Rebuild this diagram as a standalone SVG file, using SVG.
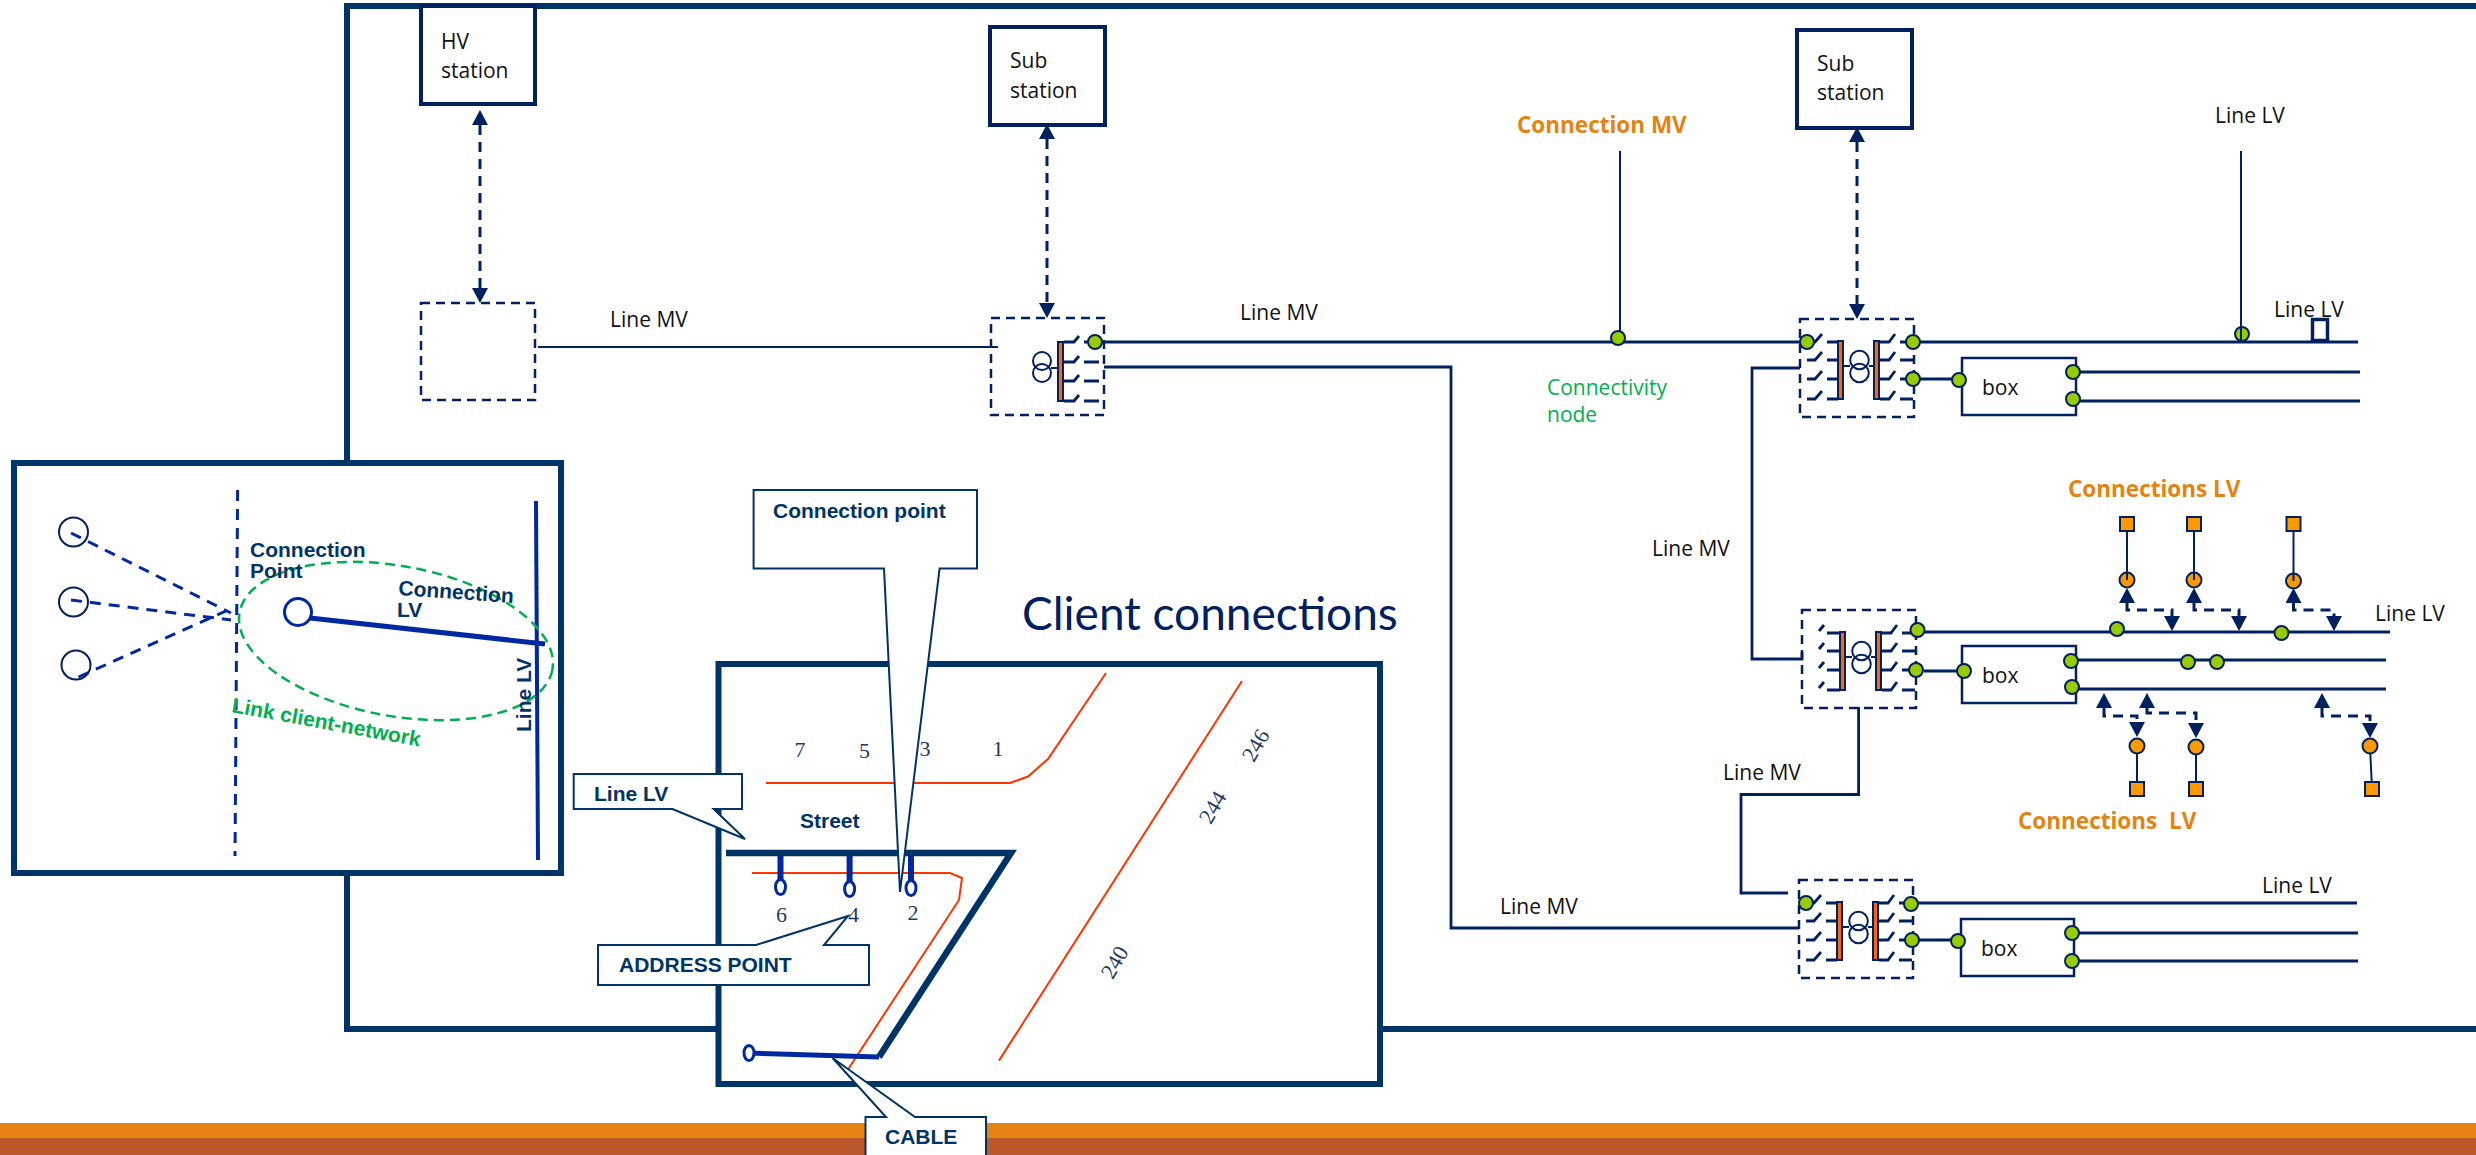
<svg xmlns="http://www.w3.org/2000/svg" width="2476" height="1155" viewBox="0 0 2476 1155">
<style>
text{font-family:"Open Sans","Noto Sans",sans-serif;font-size:21px;fill:#111}
.b{font-family:"Liberation Sans",Arial,sans-serif;font-weight:700;font-size:21px;fill:#003366}
.n{font-family:"Liberation Serif","Times New Roman",serif;font-size:22px;fill:#1f3a64;text-anchor:middle}
.o{font-family:"Open Sans",sans-serif;font-weight:700;font-size:22.500px;fill:#e48312}
.g{fill:#00b050}
.frame{fill:#fff;stroke:#003366;stroke-width:6}
.nl{fill:none;stroke:#002060;stroke-width:2.800}
.thin{fill:none;stroke:#002060;stroke-width:2}
.box{fill:#fff;stroke:#002060;stroke-width:2.500}
.hb{fill:#fff;stroke:#002060;stroke-width:4}
.dash{fill:none;stroke:#002060;stroke-width:2.500;stroke-dasharray:9 6}
.arr{fill:none;stroke:#002060;stroke-width:3;stroke-dasharray:10 7;marker-start:url(#ah);marker-end:url(#ah)}
.bus{fill:#ff6600;stroke:#002060;stroke-width:2}
.gn{fill:#99cc00;stroke:#002060;stroke-width:2}
.on{fill:#ff9900;stroke:#002060;stroke-width:2}
.red{fill:none;stroke:#ff3300;stroke-width:2}
.blue{fill:none;stroke:#0028a0;stroke-width:5}
.stem{fill:none;stroke:#0028a0;stroke-width:6}
.bdash{fill:none;stroke:#0028a0;stroke-width:3;stroke-dasharray:11 8}
.call{fill:#fff;stroke:#003366;stroke-width:2}
.ci{fill:#fff;stroke:#0028a0;stroke-width:3}
</style>
<defs>
<marker id="ah" markerUnits="userSpaceOnUse" markerWidth="15" markerHeight="16" refX="0" refY="8" orient="auto-start-reverse"><path d="M0 0L15 8L0 16z" fill="#002060"/></marker>
<g id="core">
<rect class="dash" width="114" height="98"/>
<rect class="bus" x="38" y="22" width="5" height="58"/>
<rect class="bus" x="74" y="22" width="5" height="58"/>
<circle class="thin" cx="59.500" cy="41" r="9.300"/>
<circle class="thin" cx="59.500" cy="54" r="9.300"/>
<path class="thin" d="M43 47H50M69 47H75"/>
<path class="nl" d="M80 23H89L95 15M100 23H113M80 41H89L95 33M100 41H113M80 60H89L95 52M100 60H113M80 80H89L95 72M100 80H113"/>
</g>
<path id="lfull" class="nl" d="M7 23H15L22 15M27 23H38M7 41H15L22 33M27 41H38M7 60H15L22 52M27 60H38M7 80H15L22 72M27 80H38"/>
<path id="lshort" class="nl" d="M17 21L22 15M25 23H38M17 39L22 33M25 41H38M17 58L22 52M25 60H38M17 78L22 72M25 80H38"/>
</defs>
<rect width="2476" height="1155" fill="#fff"/>
<path id="outer-frame" d="M2480 6H347V1029H2480" fill="none" stroke="#003366" stroke-width="6"/>
<rect id="band-top" y="1123" width="2476" height="15" fill="#e48312"/>
<rect id="band-bottom" y="1138" width="2476" height="17" fill="#bd582c"/>

<g id="connectors">
<path class="thin" d="M538 347H998"/>
<path class="nl" d="M1102 342H1800"/>
<path class="nl" d="M1104 367H1451V928H1799"/>
<path class="nl" d="M1800 368H1752V659H1802V652"/>
<path class="nl" d="M1858.600 707V794.500H1741V893H1788"/>
<path class="thin" d="M1620 151V338"/>
<path class="thin" d="M2241 151V335"/>
<path class="nl" d="M1920 342H2358"/>
<path class="nl" d="M1920 379H1959"/>
<path class="nl" d="M2076 372H2360M2076 401H2360"/>
<path class="nl" d="M1924 632H2390"/>
<path class="nl" d="M1924 671H1964"/>
<path class="nl" d="M2076 660H2386M2076 689H2386"/>
<path class="nl" d="M1918 903H2357"/>
<path class="nl" d="M1918 940H1958"/>
<path class="nl" d="M2074 933H2358M2074 961H2358"/>
<path class="arr" d="M480 125V288"/>
<path class="arr" d="M1047 139V303"/>
<path class="arr" d="M1857 142V304"/>
<path class="arr" d="M2127 603V610H2172V616"/>
<path class="arr" d="M2194 603V610H2239V616"/>
<path class="arr" d="M2293.500 603V610H2334V616"/>
<path class="arr" d="M2104 708V716H2137V722"/>
<path class="arr" d="M2147 708V713H2196V723"/>
<path class="arr" d="M2322 708V716H2370V723"/>
<path class="thin" d="M2137 746V789M2196 747V789M2370 746L2372 789"/>
</g>

<g id="hv-station"><rect class="hb" x="421" y="6" width="114" height="98"/><text x="441" y="49">HV</text><text x="441" y="78">station</text></g>
<g id="hv-node"><rect class="dash" x="421" y="303" width="114" height="97"/></g>
<g id="sub-station-1"><rect class="hb" x="990" y="27" width="115" height="98"/><text x="1010" y="68">Sub</text><text x="1010" y="98">station</text></g>
<g id="sub-station-2"><rect class="hb" x="1797" y="30" width="115" height="98"/><text x="1817" y="71">Sub</text><text x="1817" y="100">station</text></g>

<g id="substation-a">
<rect class="dash" x="991" y="318" width="113" height="97"/>
<rect class="bus" x="1058" y="342" width="5" height="59"/>
<circle class="thin" cx="1042" cy="361" r="9"/><circle class="thin" cx="1042" cy="373" r="9"/>
<path class="thin" d="M1051 368H1058"/>
<path class="nl" d="M1064 342H1074L1079 336M1064 362H1074L1079 356M1064 381H1074L1079 375M1064 401H1074L1079 395M1084 342H1089M1084 362H1099M1084 381H1099M1084 401H1099"/>
<circle class="gn" cx="1095" cy="342" r="7"/>
</g>
<g id="substation-b" transform="translate(1800 319)"><use href="#core"/><use href="#lfull"/>
<circle class="gn" cx="7" cy="23" r="7"/><circle class="gn" cx="113" cy="23" r="7"/><circle class="gn" cx="113" cy="60" r="7"/></g>
<g id="substation-c" transform="translate(1802 610)"><use href="#core"/><use href="#lshort"/>
<circle class="gn" cx="115.500" cy="20" r="7"/><circle class="gn" cx="114" cy="60" r="7"/></g>
<g id="substation-d" transform="translate(1799 880)"><use href="#core"/><use href="#lfull"/>
<circle class="gn" cx="7" cy="23" r="7"/><circle class="gn" cx="112" cy="24" r="7"/><circle class="gn" cx="113" cy="60" r="7"/></g>

<g id="box-1"><rect class="box" x="1962" y="358" width="114" height="57"/><text x="1982" y="395">box</text>
<circle class="gn" cx="1959" cy="380" r="7"/><circle class="gn" cx="2073" cy="372" r="7"/><circle class="gn" cx="2073" cy="399" r="7"/></g>
<g id="box-2"><rect class="box" x="1962" y="646" width="114" height="57"/><text x="1982" y="683">box</text>
<circle class="gn" cx="1964" cy="671" r="7"/><circle class="gn" cx="2071" cy="661" r="7"/><circle class="gn" cx="2072" cy="687" r="7"/></g>
<g id="box-3"><rect class="box" x="1961" y="919" width="113" height="57"/><text x="1981" y="956">box</text>
<circle class="gn" cx="1958" cy="941" r="7"/><circle class="gn" cx="2072" cy="933" r="7"/><circle class="gn" cx="2072" cy="961" r="7"/></g>

<g id="connectivity-nodes">
<circle class="gn" cx="1618" cy="338" r="7"/>
<circle class="gn" cx="2242" cy="334" r="7"/>
<path class="thin" d="M2241 328V342"/>
<circle class="gn" cx="2117" cy="629" r="7"/><circle class="gn" cx="2281.500" cy="633" r="7"/>
<circle class="gn" cx="2188" cy="662" r="7"/><circle class="gn" cx="2217" cy="662" r="7"/>
</g>
<g id="tap-marker"><rect x="2312.500" y="319.500" width="15" height="21" fill="#fff" stroke="#002060" stroke-width="3.500"/></g>

<g id="clients">
<rect class="on" x="2120" y="517" width="14" height="14"/><rect class="on" x="2187" y="517" width="14" height="14"/><rect class="on" x="2286.500" y="517" width="14" height="14"/>
<circle class="on" cx="2127" cy="580" r="7.500"/><circle class="on" cx="2194" cy="580" r="7.500"/><circle class="on" cx="2293.500" cy="581" r="7.500"/>
<path class="thin" d="M2127 531V580M2194 531V580M2293.500 531V581"/>
<circle class="on" cx="2137" cy="746" r="7.500"/><circle class="on" cx="2196" cy="747" r="7.500"/><circle class="on" cx="2370" cy="746" r="7.500"/>
<rect class="on" x="2130" y="782" width="14" height="14"/><rect class="on" x="2189" y="782" width="14" height="14"/><rect class="on" x="2365" y="782" width="14" height="14"/>
</g>

<g id="labels">
<text x="610" y="327">Line MV</text>
<text x="1240" y="320">Line MV</text>
<text class="o" x="1517" y="133">Connection MV</text>
<text class="g" x="1547" y="395">Connectivity</text>
<text class="g" x="1547" y="422">node</text>
<text x="1652" y="556">Line MV</text>
<text x="1723" y="780">Line MV</text>
<text x="1500" y="914">Line MV</text>
<text x="2215" y="123">Line LV</text>
<text x="2274" y="317">Line LV</text>
<text x="2375" y="621">Line LV</text>
<text x="2262" y="893">Line LV</text>
<text class="o" x="2068" y="497">Connections LV</text>
<text class="o" x="2018" y="829" xml:space="preserve">Connections  LV</text>
</g>

<g id="inset-link">
<rect class="frame" x="14" y="463" width="547" height="410"/>
<path class="bdash" d="M237.600 490L235 856"/>
<path class="blue" style="stroke-width:4" d="M536 501L538 860"/>
<circle class="thin" cx="73.500" cy="532" r="14.500"/><circle class="thin" cx="73.500" cy="602" r="14.500"/><circle class="thin" cx="76" cy="665" r="14.500"/>
<path class="bdash" d="M71 533L231 613M71 600L231 620M78.500 677L226 611"/>
<ellipse cx="396" cy="641" rx="159" ry="75" transform="rotate(10.400 396 641)" fill="none" stroke="#00b050" stroke-width="2.500" stroke-dasharray="10 6"/>
<circle class="ci" cx="298" cy="612" r="13.500"/>
<path class="blue" d="M310 618L545 644"/>
<text class="b" x="250" y="557">Connection</text><text class="b" x="250" y="578">Point</text>
<text class="b" transform="translate(398 595) rotate(4)">Connection</text><text class="b" x="397" y="617">LV</text>
<text class="b g" transform="translate(231 712) rotate(10.400)">Link client-network</text>
<text class="b" transform="translate(531 732) rotate(-90)">Line LV</text>
</g>

<g id="client-map">
<rect class="frame" x="718.500" y="664" width="661.500" height="420"/>
<path class="red" d="M766 783H1010L1028 776.500L1048 759L1106 673"/>
<path class="red" d="M999 1060.600L1242 681"/>
<path class="red" d="M752 873H950L962 878L959 900L848 1069.500"/>
<path class="stem" d="M780.500 853V881M849.600 853V882M911 853V881"/>
<path d="M726 853H1011L879 1057" fill="none" stroke="#003366" stroke-width="6.500"/>
<path class="blue" d="M879 1057L749 1053"/>
<ellipse class="ci" cx="780.500" cy="887" rx="5" ry="7.500"/><ellipse class="ci" cx="849.600" cy="889" rx="5" ry="7.500"/><ellipse class="ci" cx="911" cy="888" rx="5" ry="7.500"/><ellipse class="ci" cx="749" cy="1053" rx="5" ry="7.500"/>
<text class="n" x="800" y="757">7</text><text class="n" x="864.500" y="757.500">5</text><text class="n" x="925" y="756">3</text><text class="n" x="998" y="756">1</text>
<text class="n" x="781.600" y="922">6</text><text class="n" x="853.500" y="922">4</text><text class="n" x="913" y="920">2</text>
<text class="n" transform="translate(1262 749) rotate(-60)">246</text>
<text class="n" transform="translate(1219 811) rotate(-60)">244</text>
<text class="n" transform="translate(1121 966) rotate(-60)">240</text>
<text class="b" x="800" y="828">Street</text>
</g>
<text id="client-title" x="1022" y="630" style="font-family:Lato,'Open Sans',sans-serif;font-size:46px;fill:#002060">Client connections</text>

<g id="callout-connection-point"><path class="call" d="M753.600 490H977V568.600H939.600L900 892L884 568.600H753.600z"/><text class="b" x="773" y="517.600">Connection point</text></g>
<g id="callout-line-lv"><path class="call" d="M573.700 774H742V809H713.600L745 839L672.500 809H573.700z"/><text class="b" x="594" y="801">Line LV</text></g>
<g id="callout-address-point"><path class="call" d="M598 945H756L848 916L824 945H869V985H598z"/><text class="b" x="619" y="972">ADDRESS POINT</text></g>
<g id="callout-cable"><path class="call" d="M865.500 1160V1117H886L832.600 1058L915 1117H986V1160"/><text class="b" x="885" y="1144">CABLE</text></g>
</svg>
